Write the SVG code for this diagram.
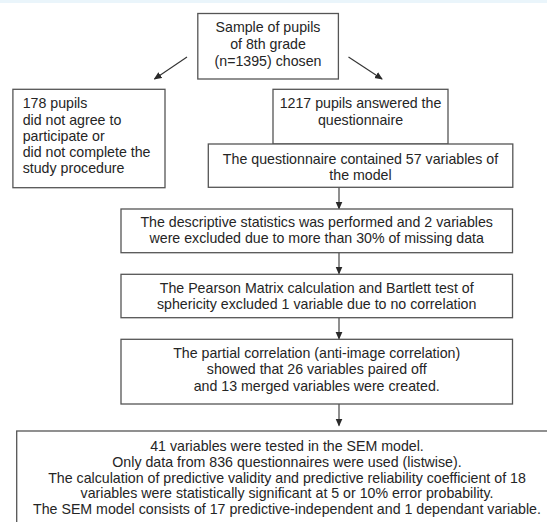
<svg xmlns="http://www.w3.org/2000/svg" width="547" height="522" viewBox="0 0 547 522">
<defs>
<marker id="ah" markerWidth="8" markerHeight="8" refX="7" refY="4" orient="auto" markerUnits="userSpaceOnUse">
<path d="M0,0.5 L8,4 L0,7.5 Z" fill="#2a2a2a"/>
</marker>
<style>
.box{fill:#fff;stroke:#555;stroke-width:1.3}
.t{font-family:"Liberation Sans",Arial,sans-serif;font-size:14.2px;fill:#252525;text-anchor:middle}
.l{text-anchor:start}
.c{stroke:#333;stroke-width:1.1;fill:none;marker-end:url(#ah)}
</style>
</defs>
<rect width="547" height="522" fill="#fff"/>
<rect x="0" y="0" width="547" height="3" fill="#eaf5fb"/>
<g id="connectors">
<path class="c" d="M187,57 L154.5,79"/>
<path class="c" d="M348.5,57 L382,79"/>
<path class="c" d="M339,187.3 V208.5"/>
<path class="c" d="M339,252.7 V273.5"/>
<path class="c" d="M339,317.7 V338.7"/>
<path class="c" d="M339,404 V425.5"/>
</g>
<g id="n1">
<rect class="box" x="197.8" y="13.5" width="140.6" height="65.5"/>
<text class="t" x="268" y="32.3">Sample of pupils</text>
<text class="t" x="268" y="49">of 8th grade</text>
<text class="t" x="268" y="65.7">(n=1395) chosen</text>
</g>
<g id="n2">
<rect class="box" x="12.9" y="89.3" width="152.1" height="98.4"/>
<text class="t l" x="22.7" y="108.3">178 pupils</text>
<text class="t l" x="22.7" y="124.5">did not agree to</text>
<text class="t l" x="22.7" y="140.7">participate or</text>
<text class="t l" x="22.7" y="156.9">did not complete the</text>
<text class="t l" x="22.7" y="173.1">study procedure</text>
</g>
<g id="n3">
<rect class="box" x="273" y="89.3" width="175" height="54.7"/>
<text class="t" x="360.5" y="108.3">1217 pupils answered the</text>
<text class="t" x="360.5" y="124.5">questionnaire</text>
</g>
<g id="n4">
<rect class="box" x="208.3" y="144" width="304.5" height="43.3"/>
<text class="t" x="360.5" y="164">The questionnaire contained 57 variables of</text>
<text class="t" x="360.5" y="180">the model</text>
</g>
<g id="n5">
<rect class="box" x="121" y="209" width="391.5" height="43.7"/>
<text class="t" x="316.7" y="227.3">The descriptive statistics was performed and 2 variables</text>
<text class="t" x="316.7" y="243.3">were excluded due to more than 30% of missing data</text>
</g>
<g id="n6">
<rect class="box" x="121" y="274.3" width="391.5" height="43.4"/>
<text class="t" x="316.7" y="292.7">The Pearson Matrix calculation and Bartlett test of</text>
<text class="t" x="316.7" y="308.7">sphericity excluded 1 variable due to no correlation</text>
</g>
<g id="n7">
<rect class="box" x="121" y="339.3" width="391.5" height="64.7"/>
<text class="t" x="316.7" y="357.7">The partial correlation (anti-image correlation)</text>
<text class="t" x="316.7" y="374.3">showed that 26 variables paired off</text>
<text class="t" x="316.7" y="391">and 13 merged variables were created.</text>
</g>
<g id="n8">
<rect class="box" x="16.7" y="431" width="540" height="100"/>
<text class="t" x="287" y="451">41 variables were tested in the SEM model.</text>
<text class="t" x="287" y="466.8">Only data from 836 questionnaires were used (listwise).</text>
<text class="t" x="287" y="482.6">The calculation of predictive validity and predictive reliability coefficient of 18</text>
<text class="t" x="287" y="498.4">variables were statistically significant at 5 or 10% error probability.</text>
<text class="t" x="287" y="514.2">The SEM model consists of 17 predictive-independent and 1 dependant variable.</text>
</g>
</svg>
